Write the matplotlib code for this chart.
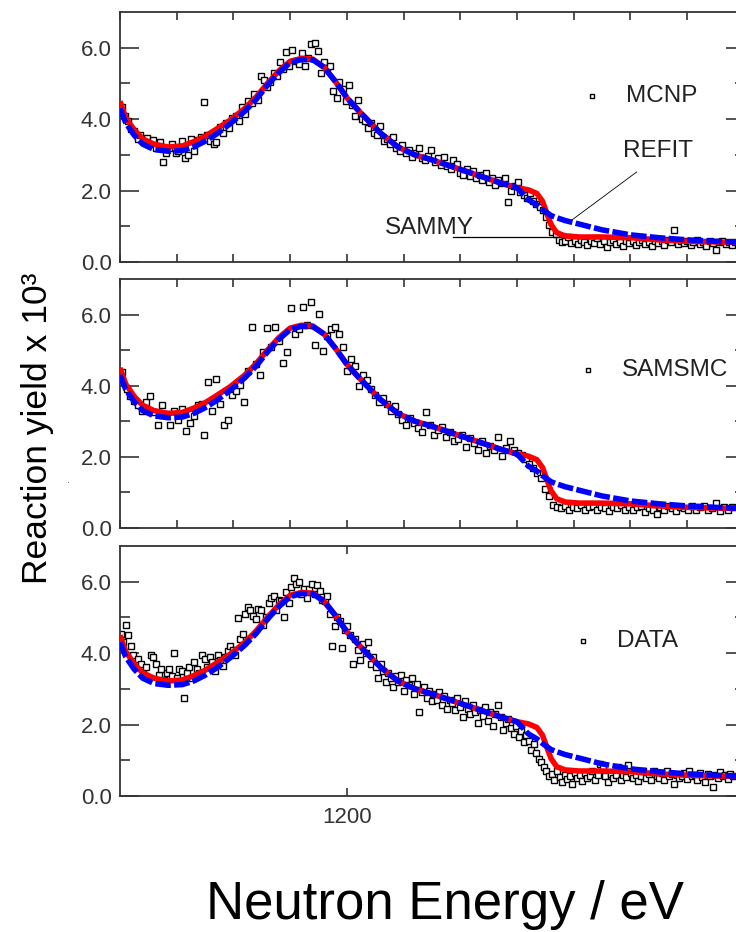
import matplotlib
matplotlib.use("Agg")
import matplotlib.pyplot as plt
from matplotlib.ticker import MultipleLocator, FixedLocator

plt.rcParams['font.family'] = ['Liberation Sans', 'DejaVu Sans']

# model curves (energy in eV, yield x 1e3)
curve_e = [1160, 1161, 1162.5, 1164, 1166, 1168.5, 1171, 1173, 1175, 1177, 1179.5, 1182, 1184,
           1186, 1188, 1190, 1192, 1194, 1196, 1198, 1200, 1202, 1204, 1206, 1209, 1212, 1215,
           1218, 1221, 1224, 1227, 1230, 1232, 1233.5, 1234.5, 1235.3, 1236, 1237, 1238.5,
           1241, 1245, 1250, 1255, 1260, 1265, 1270]
refit_y = [4.5, 4.05, 3.7, 3.45, 3.3, 3.22, 3.25, 3.37, 3.52, 3.72, 3.98, 4.3, 4.62,
           5.0, 5.35, 5.62, 5.7, 5.68, 5.45, 5.05, 4.6, 4.25, 3.92, 3.6, 3.22, 3.0, 2.86,
           2.7, 2.54, 2.38, 2.22, 2.08, 2.02, 1.92, 1.7, 1.35, 1.05, 0.82, 0.73,
           0.7, 0.7, 0.68, 0.62, 0.58, 0.56, 0.55]
sammy_y = [4.3, 3.9, 3.55, 3.3, 3.15, 3.1, 3.12, 3.22, 3.38, 3.58, 3.88, 4.22, 4.55,
           4.95, 5.3, 5.58, 5.67, 5.66, 5.45, 5.05, 4.6, 4.25, 3.92, 3.6, 3.22, 3.0, 2.86,
           2.7, 2.54, 2.38, 2.22, 2.08, 1.74, 1.6, 1.47, 1.38, 1.3, 1.24, 1.16,
           1.06, 0.9, 0.76, 0.68, 0.62, 0.58, 0.55]

# MCNP points
mcnp_e = [1160.3, 1160.8, 1161.4, 1161.9, 1162.5, 1163.1, 1163.6, 1164.2, 1164.8, 1165.3,
          1165.9, 1166.4, 1167.0, 1167.5, 1168.1, 1168.7, 1169.2, 1169.8, 1170.3, 1170.9,
          1171.4, 1172.0, 1172.6, 1173.1, 1173.7, 1174.2, 1174.8, 1175.4, 1175.9, 1176.5,
          1177.0, 1177.6, 1178.1, 1178.7, 1179.3, 1179.8, 1180.4, 1180.9, 1181.5, 1182.0,
          1182.6, 1183.2, 1183.7, 1184.3, 1184.8, 1185.4, 1185.9, 1186.5, 1187.1, 1187.6,
          1188.2, 1188.7, 1189.3, 1189.8, 1190.4, 1191.0, 1191.5, 1192.1, 1192.6, 1193.2,
          1193.7, 1194.3, 1194.9, 1195.4, 1195.9, 1196.5, 1197.0, 1197.6, 1198.2, 1198.7,
          1199.3, 1199.8, 1200.4, 1200.9, 1201.5, 1202.0, 1202.6, 1203.2, 1203.7, 1204.3,
          1204.8, 1205.4, 1205.9, 1206.5, 1207.0, 1207.6, 1208.2, 1208.7, 1209.3, 1209.8,
          1210.4, 1211.0, 1211.5, 1212.1, 1212.7, 1213.2, 1213.8, 1214.3, 1214.9, 1215.5,
          1216.0, 1216.6, 1217.2, 1217.7, 1218.3, 1218.8, 1219.4, 1220.0, 1220.5, 1221.1,
          1221.7, 1222.2, 1222.8, 1223.4, 1223.9, 1224.5, 1225.0, 1225.6, 1226.2, 1226.7,
          1227.3, 1227.8, 1228.4, 1228.9, 1229.5, 1230.1, 1230.6, 1231.2, 1231.8, 1232.3,
          1232.9, 1233.4, 1234.0, 1234.6, 1235.1, 1235.7, 1236.2, 1236.8, 1237.4, 1237.9,
          1238.5, 1239.0, 1239.6, 1240.2, 1240.7, 1241.3, 1241.9, 1242.4, 1243.0, 1243.6,
          1244.1, 1244.7, 1245.3, 1245.8, 1246.4, 1247.0, 1247.5, 1248.1, 1248.7, 1249.2,
          1249.8, 1250.4, 1250.9, 1251.5, 1252.1, 1252.6, 1253.2, 1253.8, 1254.3, 1254.9,
          1255.5, 1256.0, 1256.6, 1257.2, 1257.7, 1258.3, 1258.9, 1259.4, 1260.0, 1260.6,
          1261.1, 1261.7, 1262.3, 1262.8, 1263.4, 1264.0, 1264.5, 1265.1, 1265.7, 1266.2,
          1266.8, 1267.4, 1267.9, 1268.5]
mcnp_y = [4.35, 4.1, 3.95, 3.72, 3.68, 3.45, 3.55, 3.38, 3.48, 3.3,
          3.42, 3.2, 3.35, 2.8, 3.05, 3.18, 3.3, 3.05, 3.1, 3.38,
          2.92, 3.0, 3.45, 3.12, 3.42, 3.5, 4.48, 3.55, 3.4, 3.3,
          3.35, 3.78, 3.6, 3.9, 3.75, 4.02, 4.1, 3.95, 4.35, 4.15,
          4.5, 4.45, 4.7, 4.55, 5.2, 5.1, 4.9, 5.05, 5.3, 5.2,
          5.6, 5.4, 5.88, 5.5, 5.95, 5.62, 5.55, 5.85, 5.5, 5.7,
          6.1, 6.12, 5.9, 5.3, 5.6, 5.42, 5.5, 4.8, 4.6, 5.05,
          4.85, 4.5, 4.95, 4.4, 4.1, 4.55, 4.0, 3.95, 3.75, 3.9,
          3.6, 3.55, 3.8, 3.4, 3.45, 3.3, 3.5, 3.2, 3.1, 3.28,
          3.05, 3.15, 2.95, 3.05, 3.2, 2.92, 2.85, 2.98, 3.15, 2.8,
          2.9, 2.72, 2.95, 2.68, 2.6, 2.85, 2.75, 2.5, 2.45, 2.6,
          2.4, 2.55, 2.35, 2.45, 2.3, 2.5, 2.25, 2.35, 2.15, 2.3,
          2.22, 2.35, 1.68, 2.0, 2.12, 2.25, 1.95, 1.88, 1.8, 1.92,
          1.7, 1.62, 1.55, 1.45, 1.25, 1.05, 0.85, 0.78, 0.62, 0.55,
          0.6, 0.7, 0.52, 0.58, 0.5, 0.62, 0.55, 0.48, 0.6, 0.54,
          0.66, 0.5, 0.58, 0.42, 0.55, 0.62, 0.5, 0.56, 0.45, 0.6,
          0.52, 0.58, 0.48, 0.55, 0.62, 0.5, 0.57, 0.46, 0.6, 0.53,
          0.58, 0.48, 0.62, 0.55, 0.9, 0.5, 0.58, 0.52, 0.6, 0.47,
          0.55, 0.62, 0.5, 0.56, 0.44, 0.58, 0.52, 0.35, 0.55, 0.6,
          0.5, 0.57, 0.48, 0.55]

# SAMSMC points
samsmc_e = [1160.4, 1161.2, 1161.8, 1162.5, 1163.2, 1163.9, 1164.6, 1165.3, 1166.0, 1166.7,
            1167.4, 1168.1, 1168.8, 1169.5, 1170.2, 1170.9, 1171.6, 1172.3, 1173.0, 1173.7,
            1174.4, 1174.8, 1175.5, 1176.2, 1176.9, 1177.6, 1178.3, 1179.0, 1179.7, 1180.4,
            1181.1, 1181.8, 1182.5, 1183.2, 1183.9, 1184.6, 1185.3, 1186.0, 1186.7, 1187.4,
            1188.1, 1188.8, 1189.5, 1190.2, 1190.9, 1191.6, 1192.3, 1193.0, 1193.7, 1194.4,
            1195.1, 1195.8, 1196.5, 1197.2, 1197.9, 1198.6, 1199.3, 1200.0, 1200.7, 1201.4,
            1202.1, 1202.8, 1203.5, 1204.2, 1204.9, 1205.6, 1206.3, 1207.0, 1207.7, 1208.4,
            1209.1, 1209.8, 1210.5, 1211.2, 1211.9, 1212.6, 1213.3, 1214.0, 1214.7, 1215.4,
            1216.1, 1216.8, 1217.5, 1218.2, 1218.9, 1219.6, 1220.3, 1221.0, 1221.7, 1222.4,
            1223.1, 1223.8, 1224.5, 1225.2, 1225.9, 1226.6, 1227.3, 1228.0, 1228.7, 1229.4,
            1230.1, 1230.8, 1231.5, 1232.2, 1232.9, 1233.6, 1234.3, 1235.0, 1235.7, 1236.4,
            1237.1, 1237.8, 1238.5, 1239.2, 1239.9, 1240.6, 1241.3, 1242.0, 1242.7, 1243.4,
            1244.1, 1244.8, 1245.5, 1246.2, 1246.9, 1247.6, 1248.3, 1249.0, 1249.7, 1250.4,
            1251.1, 1251.8, 1252.5, 1253.2, 1253.9, 1254.6, 1255.3, 1256.0, 1256.7, 1257.4,
            1258.1, 1258.8, 1259.5, 1260.2, 1260.9, 1261.6, 1262.3, 1263.0, 1263.7, 1264.4,
            1265.1, 1265.8, 1266.5, 1267.2, 1267.9]
samsmc_y = [4.38, 3.9, 3.7, 3.58, 3.45, 3.3, 3.55, 3.72, 3.25, 2.9,
            3.45, 3.2, 2.9, 3.3, 3.05, 3.35, 2.72, 2.95, 3.15, 3.45,
            3.48, 2.62, 4.1, 3.3, 4.2, 3.5, 2.9, 3.05, 3.75, 3.85,
            4.02, 3.55, 4.4, 5.65, 4.6, 4.3, 4.95, 5.62, 5.1, 5.65,
            5.25, 4.65, 4.95, 6.18, 5.45, 5.6, 6.2, 5.7, 6.36, 5.15,
            6.03, 4.97, 5.4, 5.6, 5.65, 5.45, 5.1, 4.4, 4.75, 4.55,
            3.98, 4.3, 4.15, 3.9, 3.75, 3.55, 3.65, 3.5, 3.3, 3.42,
            3.2, 3.05, 2.9, 3.1, 2.95, 2.82, 2.7, 3.25, 2.9, 2.62,
            2.75, 2.85, 2.55, 2.7, 2.45, 2.5, 2.62, 2.28, 2.52, 2.38,
            2.2, 2.45, 2.12, 2.3, 2.2, 2.55, 2.02, 2.25, 2.45, 2.18,
            2.1, 2.05, 1.95, 1.8, 1.7, 1.55, 1.4, 1.1, 0.9, 0.65,
            0.6, 0.55, 0.62, 0.52, 0.6, 0.55, 0.64, 0.5, 0.58, 0.62,
            0.52, 0.6, 0.55, 0.48, 0.6, 0.55, 0.66, 0.5, 0.58, 0.52,
            0.6, 0.62, 0.45, 0.55, 0.52, 0.4, 0.58, 0.5, 0.62, 0.55,
            0.48, 0.6, 0.55, 0.52, 0.62, 0.5, 0.58, 0.62, 0.5, 0.55,
            0.7, 0.48, 0.58, 0.52, 0.6]

# measured DATA points
data_e = [1160.2, 1160.6, 1161.0, 1161.4, 1161.9, 1162.3, 1162.8, 1163.2, 1163.7, 1164.1,
          1164.6, 1165.0, 1165.5, 1165.9, 1166.4, 1166.8, 1167.3, 1167.7, 1168.2, 1168.6,
          1169.1, 1169.5, 1170.0, 1170.4, 1170.9, 1171.3, 1171.8, 1172.2, 1172.7, 1173.1,
          1173.6, 1174.0, 1174.5, 1174.9, 1175.4, 1175.8, 1176.3, 1176.7, 1177.2, 1177.6,
          1178.1, 1178.5, 1179.0, 1179.4, 1179.9, 1180.3, 1180.8, 1181.2, 1181.7, 1182.1,
          1182.6, 1183.0, 1183.5, 1183.9, 1184.4, 1184.8, 1185.3, 1185.7, 1186.2, 1186.6,
          1187.1, 1187.5, 1188.0, 1188.4, 1188.9, 1189.3, 1189.8, 1190.2, 1190.7, 1191.1,
          1191.6, 1192.0, 1192.5, 1192.9, 1193.4, 1193.8, 1194.3, 1194.7, 1195.2, 1195.6,
          1196.1, 1196.5, 1197.0, 1197.4, 1197.9, 1198.3, 1198.8, 1199.2, 1199.7, 1200.1,
          1200.6, 1201.0, 1201.5, 1201.9, 1202.4, 1202.8, 1203.3, 1203.7, 1204.2, 1204.6,
          1205.1, 1205.5, 1206.0, 1206.4, 1206.9, 1207.3, 1207.8, 1208.2, 1208.7, 1209.1,
          1209.6, 1210.0, 1210.5, 1210.9, 1211.4, 1211.8, 1212.3, 1212.7, 1213.2, 1213.6,
          1214.1, 1214.5, 1215.0, 1215.4, 1215.9, 1216.3, 1216.8, 1217.2, 1217.7, 1218.1,
          1218.6, 1219.0, 1219.5, 1219.9, 1220.4, 1220.8, 1221.3, 1221.7, 1222.2, 1222.6,
          1223.1, 1223.5, 1224.0, 1224.4, 1224.9, 1225.3, 1225.8, 1226.2, 1226.7, 1227.1,
          1227.6, 1228.0, 1228.5, 1228.9, 1229.4, 1229.8, 1230.3, 1230.7, 1231.2, 1231.6,
          1232.1, 1232.5, 1233.0, 1233.4, 1233.9, 1234.3, 1234.8, 1235.2, 1235.7, 1236.1,
          1236.6, 1237.0, 1237.5, 1237.9, 1238.4, 1238.8, 1239.3, 1239.7, 1240.2, 1240.6,
          1241.1, 1241.5, 1242.0, 1242.4, 1242.9, 1243.3, 1243.8, 1244.2, 1244.7, 1245.1,
          1245.6, 1246.0, 1246.5, 1246.9, 1247.4, 1247.8, 1248.3, 1248.7, 1249.2, 1249.6,
          1250.1, 1250.5, 1251.0, 1251.4, 1251.9, 1252.3, 1252.8, 1253.2, 1253.7, 1254.1,
          1254.6, 1255.0, 1255.5, 1255.9, 1256.4, 1256.8, 1257.3, 1257.7, 1258.2, 1258.6,
          1259.1, 1259.5, 1260.0, 1260.4, 1260.9, 1261.3, 1261.8, 1262.2, 1262.7, 1263.1,
          1263.6, 1264.0, 1264.5, 1264.9, 1265.4, 1265.8, 1266.3, 1266.7, 1267.2, 1267.6,
          1268.1]
data_y = [4.55, 4.3, 4.8, 4.5, 4.2, 3.95, 3.6, 3.85, 3.7, 3.45,
          3.6, 3.3, 3.95, 3.9, 3.7, 3.4, 3.55, 3.25, 3.45, 3.55,
          3.35, 4.0, 3.3, 3.55, 3.5, 2.75, 3.45, 3.6, 3.3, 3.75,
          3.55, 3.45, 3.95, 3.85, 3.6, 3.9, 3.75, 3.5, 3.95, 3.8,
          3.65, 3.9, 4.05, 4.2, 4.1, 3.95, 4.99, 4.4, 4.55, 5.1,
          5.3, 5.2, 5.05, 4.95, 5.25, 5.2, 4.8, 5.0, 5.4, 5.55,
          5.6, 5.2, 5.5, 5.45, 5.0, 5.7, 5.4, 5.85, 6.1, 5.95,
          6.0, 5.65, 5.8, 5.55, 5.8, 5.95, 5.65, 5.9, 5.75, 5.5,
          5.45, 5.6, 5.1, 4.2, 4.75, 5.0, 4.9, 4.15, 4.65, 4.75,
          4.5, 3.7, 4.4, 4.1, 3.8, 4.25, 4.0, 4.3, 3.7, 3.9,
          3.6, 3.3, 3.7, 3.5, 3.2, 3.45, 3.3, 3.05, 3.35, 3.2,
          3.4, 2.95, 3.25, 3.1, 3.3, 2.85, 3.15, 2.35, 2.9, 3.05,
          2.75, 2.95, 2.65, 2.85, 2.7, 2.9, 2.55, 2.8, 2.45, 2.7,
          2.6, 2.4, 2.75, 2.5, 2.2, 2.65, 2.45, 2.3, 2.55, 2.35,
          2.05, 2.4, 2.25, 2.5, 2.1, 2.35, 1.95, 2.3, 2.55, 2.2,
          1.85, 2.05, 2.15, 1.9, 1.75, 1.95, 1.65, 1.82, 1.5, 1.7,
          1.55, 1.3, 1.45, 1.2, 1.05, 0.95, 0.8, 0.7, 0.55, 0.62,
          0.45, 0.7, 0.52, 0.38, 0.6, 0.48, 0.55, 0.35, 0.65, 0.5,
          0.58, 0.42, 0.65, 0.5, 0.55, 0.7, 0.45, 0.6, 0.9, 0.8,
          0.55, 0.4, 0.62, 0.5, 0.58, 0.8, 0.45, 0.6, 0.52, 0.88,
          0.65, 0.5, 0.6, 0.42, 0.55, 0.7, 0.5, 0.62, 0.45, 0.7,
          0.55, 0.5, 0.65, 0.45, 0.7, 0.55, 0.62, 0.35, 0.6, 0.5,
          0.55, 0.65, 0.48, 0.7, 0.55, 0.6, 0.45, 0.65, 0.52, 0.4,
          0.62, 0.55, 0.25, 0.6, 0.5, 0.68, 0.55, 0.6, 0.48, 0.62,
          0.55]

panels = [("MCNP", mcnp_e, mcnp_y), ("SAMSMC", samsmc_e, samsmc_y), ("DATA", data_e, data_y)]

W, H = 736, 932
fig = plt.figure(figsize=(W / 100, H / 100), dpi=100)
# (top px, bottom px) of each panel
boxes = [(12, 262), (279, 528), (546, 796)]
left_px, right_px = 120, 745
axes = []
for (top, bot) in boxes:
    ax = fig.add_axes([left_px / W, 1 - bot / H, (right_px - left_px) / W, (bot - top) / H])
    axes.append(ax)

legend_pos = [(1243.2, 4.66), (1242.5, 4.43), (1241.6, 4.34)]
for i, (ax, (name, xe, yv)) in enumerate(zip(axes, panels)):
    ax.plot(xe, yv, ls='none', marker='s', ms=4.2, mfc='white', mec='black', mew=1.0, zorder=2)
    ax.plot(curve_e, refit_y, color='#ff0000', lw=4.0, solid_capstyle='butt', zorder=3)
    ax.plot(curve_e, sammy_y, color='#0000ff', lw=4.0, dashes=(2.8, 0.6), dash_capstyle='butt', zorder=4)

    ax.set_xlim(1160, 1270.2)
    ax.set_ylim(0, 7.0)
    ax.yaxis.set_major_locator(FixedLocator([0, 2, 4, 6]))
    ax.yaxis.set_minor_locator(FixedLocator([1, 3, 5]))
    ax.set_yticklabels(['0.0', '2.0', '4.0', '6.0'])
    ax.tick_params(axis='y', which='major', direction='in', length=14, width=1.2,
                   right=True, labelsize=16, labelcolor='#333333', color='#333333', pad=6)
    ax.tick_params(axis='y', which='minor', direction='in', length=7, width=1.2,
                   right=True, color='#333333')
    if i < 2:
        ax.xaxis.set_major_locator(MultipleLocator(10))
        ax.tick_params(axis='x', which='major', direction='in', length=6, width=1.2,
                       top=True, labelbottom=False, color='#333333')
    else:
        ax.xaxis.set_major_locator(FixedLocator([1200]))
        ax.tick_params(axis='x', which='major', direction='in', length=6, width=1.2,
                       top=True, labelsize=16, labelcolor='#333333', color='#333333', pad=8)
    for s in ax.spines.values():
        s.set_color('#333333')
        s.set_linewidth(1.3)

    lx, ly = legend_pos[i]
    ax.plot([lx], [ly], ls='none', marker='s', ms=3.4, mfc='white', mec='black', mew=1.0)
    ax.text(lx + 6.0, ly, name, fontsize=17.5, color='#222222', va='center', ha='left')

# annotations in the top panel
axes[0].text(1248.7, 3.12, "REFIT", fontsize=17.5, color='#222222', va='center', ha='left')
axes[0].plot([1251.1, 1239.2], [2.52, 1.12], color='black', lw=0.6)
axes[0].text(1206.7, 0.95, "SAMMY", fontsize=17.5, color='#222222', va='center', ha='left')
axes[0].plot([1218.7, 1238.8], [0.7, 0.7], color='black', lw=0.9)

fig.text(38 / W, 1 - 428 / H, "Reaction yield x 10³", rotation=90, fontsize=25.5,
         ha='center', va='center', color='black')
fig.text(68 / W, 1 - 480 / H, ".", fontsize=8, ha='center', va='center', color='#555555')
fig.text(445 / W, 1 - 905 / H, "Neutron Energy / eV", fontsize=38, ha='center', va='center',
         color='black')

fig.savefig("out.png", dpi=100)
